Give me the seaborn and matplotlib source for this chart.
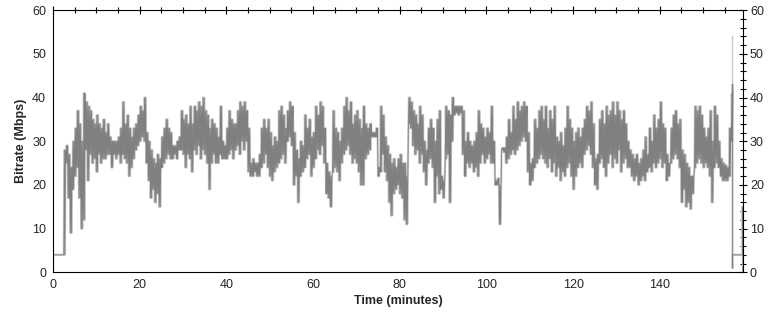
import numpy as np
import pandas as pd
import matplotlib
matplotlib.use("Agg")
import matplotlib.pyplot as plt
import seaborn as sns
from matplotlib.ticker import MultipleLocator

sns.set_theme(style="white")
plt.rcParams['font.family'] = ['Liberation Sans', 'DejaVu Sans']

# bitrate, one (low, high) pair per half minute from 2.5 min on
low = [
    4, 25, 17, 9, 19, 22, 24, 17, 10, 12, 28, 21, 27, 25, 26, 23, 27, 25, 26, 26,
    27, 27, 24, 27, 26, 27, 25, 27, 26, 25, 22, 24, 26, 28, 29, 30, 31, 30, 25, 21,
    17, 19, 16, 18, 15, 24, 25, 26, 27, 26, 26, 27, 26, 28, 28, 27, 24, 27, 26, 23,
    28, 27, 29, 26, 28, 27, 25, 19, 25, 27, 25, 25, 27, 26, 26, 26, 27, 28, 26, 28,
    29, 27, 30, 28, 30, 23, 22, 22, 23, 22, 22, 24, 25, 27, 24, 22, 21, 23, 24, 25,
    26, 27, 25, 30, 31, 29, 20, 22, 16, 22, 23, 24, 26, 27, 22, 24, 26, 28, 27, 29,
    25, 18, 17, 15, 23, 24, 23, 21, 25, 27, 28, 29, 27, 25, 26, 25, 23, 20, 20, 26,
    27, 28, 31, 31, 31, 22, 23, 27, 23, 21, 16, 13, 18, 19, 20, 18, 17, 12, 11, 34,
    33, 29, 27, 28, 25, 27, 23, 20, 25, 26, 24, 16, 22, 18, 19, 17, 26, 27, 16, 30,
    36, 36.5, 36, 36.5, 27, 22, 25, 24, 25, 23, 24, 22, 25, 27, 25, 26, 27, 25, 25, 20,
    20, 11, 28, 27.5, 25, 26, 27, 28, 27, 28, 29, 30, 31, 30, 23, 20, 21, 24, 25, 26,
    27, 26, 25, 24, 26, 23, 25, 22, 24, 21, 23, 22, 24, 25, 22, 19, 22, 24, 25, 24,
    27, 28, 29, 27, 24, 20, 19, 25, 26, 24, 22, 25, 27, 24, 26, 25, 28, 23, 25, 26,
    24, 24, 22, 21, 22, 20, 21, 22, 21, 23, 24, 23, 25, 24, 25, 26, 24, 25, 21, 22,
    25, 26, 27, 26, 24, 16, 19, 15, 16, 14.5, 18, 24, 25, 26, 25, 24, 25, 24, 22, 16,
    24, 25, 24, 22, 21, 21, 21, 22, 30,
]
high = [
    28, 29, 27, 24, 30, 33, 37, 34, 30, 41, 39, 38, 37, 35, 34, 36, 34, 33, 35, 32,
    34, 31, 30, 30, 30, 31, 33, 39, 34, 36, 33, 31, 33, 34, 36, 38, 37, 40, 32, 30,
    28, 26, 25, 27, 26, 31, 33, 35, 33, 32, 29, 29, 30, 31, 37, 35, 36, 34, 38, 34,
    38, 37, 39, 38, 40, 37, 36, 33, 35, 34, 33, 31, 38, 30, 29, 33, 37, 35, 34, 34,
    37, 39, 38, 39, 37, 33, 25, 26, 25, 25, 27, 33, 35, 33, 35, 32, 29, 31, 30, 37,
    38, 36, 33, 37, 39, 38, 32, 28, 26, 30, 29, 36, 33, 35, 31, 32, 38, 36, 39, 38,
    33, 25, 23, 22, 37, 33, 32, 30, 33, 38, 40, 37, 39, 34, 36, 37, 35, 33, 38, 34,
    33, 34, 32, 32, 33, 24, 38, 36, 31, 29, 27, 25, 26, 24, 26, 27, 25, 25, 22, 40,
    39, 37, 36, 34, 38, 36, 30, 28, 33, 35, 33, 30, 35, 37, 22, 21, 38, 37, 36, 40,
    38, 38, 38, 38, 37, 30, 32, 30, 29, 30, 32, 37, 34, 33, 31, 33, 32, 38, 30, 21,
    21.5, 20, 28.5, 28.5, 31, 35, 32, 38, 35, 39, 37, 38, 39, 38, 32, 25, 26, 35, 33, 37,
    38, 35, 38, 33, 37, 35, 38, 31, 30, 32, 29, 33, 38, 35, 33, 30, 32, 33, 31, 33,
    35, 38, 37, 39, 34, 26, 27, 35, 37, 34, 38, 36, 37, 39, 36, 39, 37, 35, 37, 34,
    30, 28, 27, 26, 27, 25, 26, 28, 31, 27, 33, 30, 36, 33, 35, 39, 34, 33, 27, 25,
    33, 36, 37, 34, 35, 28, 27, 25, 24, 22, 22, 38, 37, 38, 36, 33, 31, 33, 37, 30,
    38, 36, 30, 26, 25, 24.5, 24, 33, 41,
]
# flat start-up and tail sections
start_time = [0.0, 0.0, 2.5]
start_rate = [0, 4, 4]
end_time = [156.8, 156.8, 156.8, 159.1, 159.1, 159.2]
end_rate = [43, 1, 4, 4, 15, 0]
peak_time = [156.75, 156.75]
peak_rate = [30, 54]

t0 = 2.5
half = 0.5
strokes = 4  # up/down strokes drawn inside each half minute
zig_t, zig_v = [], []
for i, (lo, hi) in enumerate(zip(low, high)):
    for k in range(strokes):
        zig_t.append(t0 + i * half + k * half / strokes)
        zig_v.append(lo if k % 2 == 0 else hi)

df = pd.DataFrame({
    'time': start_time + zig_t + end_time,
    'rate': start_rate + zig_v + end_rate,
})
peak = pd.DataFrame({'time': peak_time, 'rate': peak_rate})

fig = plt.figure(figsize=(7.75, 3.2), dpi=100)
ax = fig.add_axes([0.0684, 0.149, 0.8903, 0.819])

sns.lineplot(data=peak, x='time', y='rate', sort=False, estimator=None,
             color='#c8c8c8', linewidth=1.0, ax=ax)
sns.lineplot(data=df, x='time', y='rate', sort=False, estimator=None,
             color='#cdcdcd', linewidth=1.6, ax=ax)
sns.lineplot(data=df, x='time', y='rate', sort=False, estimator=None,
             color='#808080', linewidth=0.6, ax=ax)

ax.set_xlim(0, 159.2)
ax.set_ylim(0, 60)
ax.xaxis.set_major_locator(MultipleLocator(20))
ax.xaxis.set_minor_locator(MultipleLocator(5))
ax.yaxis.set_major_locator(MultipleLocator(10))
ax.yaxis.set_minor_locator(MultipleLocator(2))
ax.tick_params(which='both', direction='inout', top=True, right=True,
               labelright=True, color='black', labelsize=9, pad=2)
ax.tick_params(which='major', length=6, width=0.8)
ax.tick_params(which='minor', length=4, width=0.8)
for s in ax.spines.values():
    s.set_color('black')
    s.set_linewidth(0.8)

ax.set_xlabel('Time (minutes)', fontsize=9, fontweight='bold', labelpad=3)
ax.set_ylabel('Bitrate (Mbps)', fontsize=9, fontweight='bold', labelpad=4)

fig.savefig('out.png', dpi=100, facecolor='white')
